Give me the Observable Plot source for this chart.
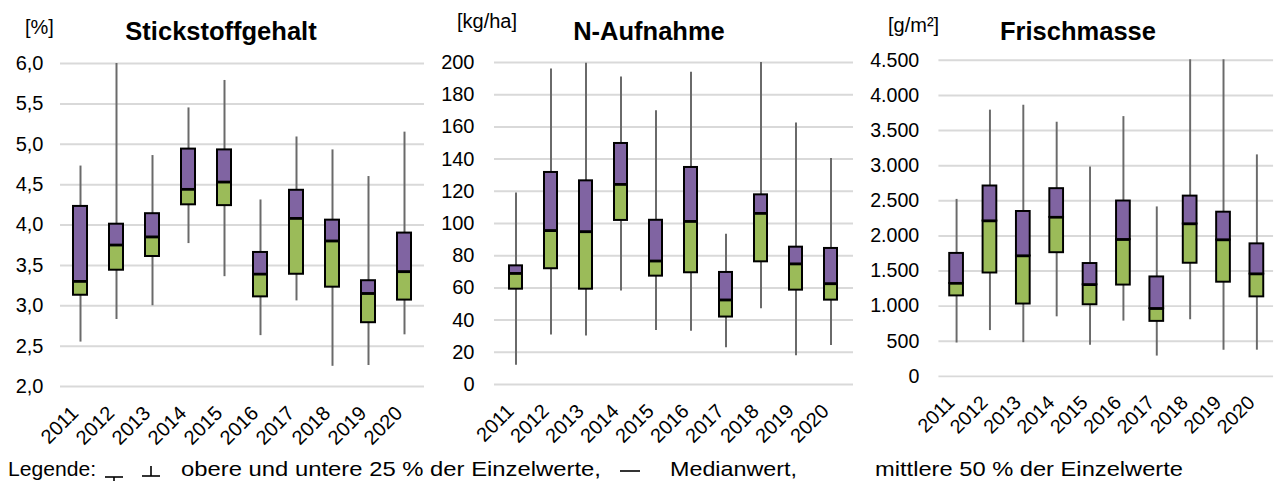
<!DOCTYPE html>
<html>
<head>
<meta charset="utf-8">
<script src="https://cdn.jsdelivr.net/npm/d3@7"></script>
<script src="https://cdn.jsdelivr.net/npm/@observablehq/plot@0.6"></script>
<style>
  html, body { margin: 0; padding: 0; background: #fff; overflow: hidden; }
  #root { position: relative; width: 1277px; height: 481px; overflow: hidden; font-family: "Liberation Sans", Arial, sans-serif; }
  .panel { position: absolute; top: 0; }
  .panel svg { overflow: visible; background: transparent; }
  #overlay { position: absolute; left: 0; top: 0; pointer-events: none; }
</style>
</head>
<body>
<div id="root">
  <div class="panel" id="p1" style="left:0px"></div>
  <div class="panel" id="p2" style="left:430px"></div>
  <div class="panel" id="p3" style="left:855px"></div>
  <svg id="overlay" width="1277" height="481"></svg>
</div>
<script>
const years = ["2011","2012","2013","2014","2015","2016","2017","2018","2019","2020"];

// Stickstoffgehalt [%]
const stickMax    = [4.73, 6.00, 4.86, 5.45, 5.79, 4.31, 5.09, 4.93, 4.60, 5.15];
const stickQ3     = [4.23, 4.01, 4.14, 4.94, 4.93, 3.66, 4.43, 4.06, 3.31, 3.90];
const stickMedian = [3.30, 3.75, 3.85, 4.44, 4.53, 3.39, 4.08, 3.80, 3.15, 3.42];
const stickQ1     = [3.13, 3.44, 3.61, 4.25, 4.24, 3.11, 3.39, 3.23, 2.79, 3.07];
const stickMin    = [2.55, 2.83, 3.00, 3.77, 3.36, 2.63, 3.06, 2.25, 2.26, 2.64];
const stickTicks  = [2.0, 2.5, 3.0, 3.5, 4.0, 4.5, 5.0, 5.5, 6.0];

// N-Aufnahme [kg/ha]
const aufnMax    = [119, 196, 199.6, 191, 170, 194, 93.4, 200, 162.4, 140.4];
const aufnQ3     = [73.7, 131.7, 126.5, 149.7, 102, 134.8, 69.6, 117.8, 85.3, 84.5];
const aufnMedian = [68.9, 95.5, 94.8, 124.2, 76.6, 101.2, 52.4, 106.2, 74.8, 62.5];
const aufnQ1     = [59.2, 71.9, 59.2, 101.9, 67.3, 69.4, 41.9, 76.2, 58.6, 52.4];
const aufnMin    = [12, 30.7, 30.2, 58, 33.5, 33, 22.8, 47, 17.8, 24.2];
const aufnTicks  = [0, 20, 40, 60, 80, 100, 120, 140, 160, 180, 200];

// Frischmasse [g/m²]
const frischMax    = [2520, 3791, 3861, 3619, 2981, 3699, 2413, 4510, 4510, 3154];
const frischQ3     = [1751, 2711, 2348, 2673, 1607, 2497, 1416, 2567, 2338, 1887];
const frischMedian = [1323, 2212, 1714, 2264, 1304, 1947, 964, 2170, 1942, 1457];
const frischQ1     = [1146, 1472, 1030, 1761, 1020, 1300, 783, 1611, 1341, 1132];
const frischMin    = [475, 652, 480, 848, 443, 787, 289, 806, 373, 373];
const frischTicks  = [0, 500, 1000, 1500, 2000, 2500, 3000, 3500, 4000, 4500];

const PURPLE = "#8064a2", GREEN = "#9bbb59";
const FONT = "Liberation Sans, Arial, sans-serif";

function rowsOf(mn, q1, md, q3, mx) {
  return years.map((y, i) => ({year: y, min: mn[i], q1: q1[i], median: md[i], q3: q3[i], max: mx[i]}));
}

function panel(el, rows, cfg) {
  const chart = Plot.plot({
    width: cfg.width, height: 470,
    marginLeft: cfg.ml, marginRight: cfg.mr, marginTop: cfg.mt, marginBottom: cfg.mb + 20,
    style: {fontFamily: FONT, background: "transparent", color: "#000"},
    x: {type: "band", domain: years, paddingInner: cfg.pad, paddingOuter: cfg.pad / 2, label: null, axis: null},
    y: {domain: cfg.domain, label: null},
    marks: [
      Plot.gridY({ticks: cfg.ticks, stroke: "#d9d9d9", strokeOpacity: 1, strokeWidth: 2}),
      Plot.ruleX(rows, {x: "year", y1: "min", y2: "max", stroke: "#6a6a6a", strokeWidth: 2}),
      Plot.barY(rows, {x: "year", y1: "q1", y2: "median", fill: GREEN, stroke: "#000", strokeWidth: 2}),
      Plot.barY(rows, {x: "year", y1: "median", y2: "q3", fill: PURPLE, stroke: "#000", strokeWidth: 2}),
      Plot.tickY(rows, {x: "year", y: "median", stroke: "#000", strokeWidth: 2.5}),
      Plot.axisY({ticks: cfg.ticks, tickSize: 0, tickPadding: cfg.tp, tickFormat: cfg.fmt, fontSize: 20, fill: "#000"}),
      Plot.text(years, {x: d => d, text: d => d, frameAnchor: "bottom", rotate: -45, textAnchor: "end",
        dx: -1, dy: 28, fontSize: 20, fill: "#000"})
    ]
  });
  document.getElementById(el).appendChild(chart);
}

const deThousands = d => d3.format(",")(d).replace(/,/g, ".");
const deOne = d => d.toFixed(1).replace(".", ",");

panel("p1", rowsOf(stickMin, stickQ1, stickMedian, stickQ3, stickMax),
  {width: 430, ml: 60, mr: 6, mt: 63, mb: 64, pad: 0.62, domain: [2, 6], ticks: stickTicks, tp: 17, fmt: deOne});
panel("p2", rowsOf(aufnMin, aufnQ1, aufnMedian, aufnQ3, aufnMax),
  {width: 425, ml: 64, mr: 2, mt: 62, mb: 66, pad: 0.62, domain: [0, 200], ticks: aufnTicks, tp: 20, fmt: d => String(d)});
panel("p3", rowsOf(frischMin, frischQ1, frischMedian, frischQ3, frischMax),
  {width: 430, ml: 85, mr: 4, mt: 61, mb: 67, pad: 0.6, domain: [0, 4500], ticks: frischTicks, tp: 20, fmt: deThousands});

// Titles, units and legend
const ov = d3.select("#overlay").style("font-family", FONT);
const texts = [
  {t: "[%]", x: 25, y: 34, s: 20},
  {t: "Stickstoffgehalt", x: 221, y: 39.5, s: 25.5, b: true, a: "middle"},
  {t: "[kg/ha]", x: 457, y: 27.5, s: 20},
  {t: "N-Aufnahme", x: 649, y: 40, s: 25.5, b: true, a: "middle"},
  {t: "[g/m²]", x: 888, y: 32, s: 20},
  {t: "Frischmasse", x: 1078, y: 40, s: 25.5, b: true, a: "middle"},
  {t: "Legende:", x: 8, y: 476, s: 21, len: 88},
  {t: "obere und untere 25 % der Einzelwerte,", x: 181, y: 476, s: 21, len: 420},
  {t: "Medianwert,", x: 670, y: 476, s: 21, len: 127},
  {t: "mittlere 50 % der Einzelwerte", x: 875, y: 476, s: 21, len: 308}
];
for (const d of texts) {
  const el = ov.append("text").attr("x", d.x).attr("y", d.y)
    .attr("font-size", d.s).attr("font-weight", d.b ? "bold" : "normal")
    .attr("text-anchor", d.a || "start").attr("fill", "#000").text(d.t);
  if (d.len) el.attr("textLength", d.len).attr("lengthAdjust", "spacingAndGlyphs");
}
// legend symbols: whisker ends and median
const g = ov.append("g").attr("stroke", "#000").attr("stroke-width", 1.6);
g.append("line").attr("x1", 105).attr("x2", 123).attr("y1", 477).attr("y2", 477);
g.append("line").attr("x1", 114).attr("x2", 114).attr("y1", 477).attr("y2", 481);
g.append("line").attr("x1", 142).attr("x2", 160).attr("y1", 476).attr("y2", 476);
g.append("line").attr("x1", 151).attr("x2", 151).attr("y1", 466).attr("y2", 476);
g.append("line").attr("x1", 620).attr("x2", 640).attr("y1", 471).attr("y2", 471);
</script>
</body>
</html>
